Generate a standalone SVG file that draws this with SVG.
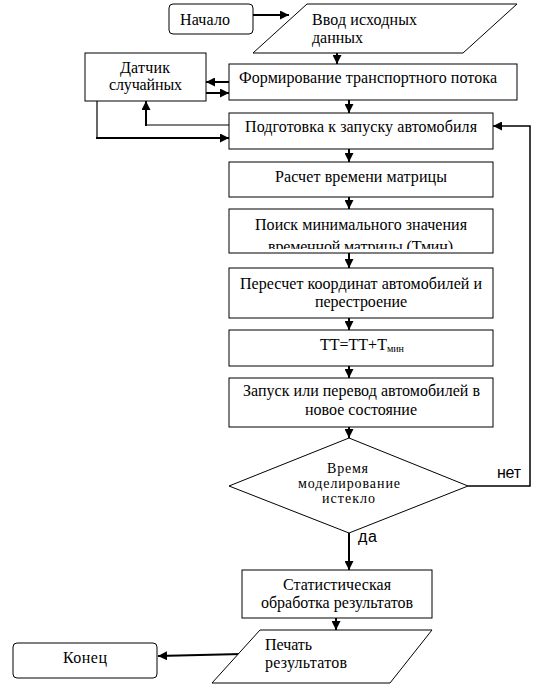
<svg xmlns="http://www.w3.org/2000/svg" width="539" height="696" viewBox="0 0 539 696">
<style>
.box{fill:#fff;stroke:#000;stroke-width:1}
.t{font-family:"Liberation Serif","Times New Roman",serif;font-size:16px;fill:#000}
.ts{font-family:"Liberation Serif","Times New Roman",serif;font-size:14px;fill:#000}
.lbl{font-family:"Liberation Sans",Arial,sans-serif;font-size:16px;fill:#000}
.c{fill:none;stroke:#000;stroke-width:2}
.thin{fill:none;stroke:#000;stroke-width:1.2}
</style>
<defs>
<marker id="ah" markerUnits="userSpaceOnUse" markerWidth="10" markerHeight="9" refX="9" refY="4.5" orient="auto">
<path d="M0,0 L9,4.5 L0,9 z" fill="#000"/>
</marker>
<clipPath id="clipPoisk"><rect x="229" y="209" width="264" height="40"/></clipPath>
</defs>
<rect width="539" height="696" fill="#fff"/>

<g id="connectors">
<line class="c" x1="253" y1="15" x2="289" y2="15" marker-end="url(#ah)"/>
<line class="c" x1="337" y1="47" x2="337" y2="64" marker-end="url(#ah)"/>
<line class="c" x1="229" y1="82" x2="206" y2="82" marker-end="url(#ah)"/>
<line class="c" x1="206" y1="93" x2="229" y2="93" marker-end="url(#ah)"/>
<line class="c" x1="349" y1="100" x2="349" y2="113" marker-end="url(#ah)"/>
<polyline class="thin" points="229,125 146,125"/>
<line class="c" x1="146" y1="126" x2="146" y2="101" stroke-width="3" marker-end="url(#ah)"/>
<polyline class="thin" points="97,101 97,138"/>
<line class="c" x1="96" y1="138" x2="229" y2="138" marker-end="url(#ah)"/>
<line class="c" x1="349" y1="149" x2="349" y2="162" marker-end="url(#ah)"/>
<line class="c" x1="349" y1="197" x2="349" y2="209" marker-end="url(#ah)"/>
<line class="c" x1="349" y1="253" x2="349" y2="268" marker-end="url(#ah)"/>
<line class="c" x1="349" y1="318" x2="349" y2="330" marker-end="url(#ah)"/>
<line class="c" x1="349" y1="366" x2="349" y2="378" marker-end="url(#ah)"/>
<line class="c" x1="349" y1="427" x2="349" y2="438" marker-end="url(#ah)"/>
<polyline fill="none" stroke="#000" stroke-width="1.5" points="468,486 530,486 530,126 493,126" marker-end="url(#ah)"/>
<line class="c" x1="349" y1="533" x2="349" y2="570" stroke-width="3.5" marker-end="url(#ah)"/>
<line class="c" x1="336" y1="618" x2="336" y2="630" marker-end="url(#ah)"/>
<line class="c" x1="242" y1="654" x2="158" y2="656" stroke-width="2.5" marker-end="url(#ah)"/>
<text class="lbl" x="497" y="478" textLength="24" lengthAdjust="spacing">нет</text>
<text class="lbl" x="358" y="542" textLength="19" lengthAdjust="spacing">да</text>
</g>

<g id="start">
<rect class="box" x="169" y="4" width="84" height="30" rx="4"/>
<text class="t" x="180" y="25" textLength="50" lengthAdjust="spacing">Начало</text>
</g>

<g id="input">
<polygon class="box" points="307,4 517,4 463,53 253,53"/>
<text class="t" x="312" y="25" textLength="105" lengthAdjust="spacing">Ввод исходных</text>
<text class="t" x="312" y="43" textLength="51" lengthAdjust="spacing">данных</text>
</g>

<g id="sensor">
<rect class="box" x="85" y="53" width="121" height="48"/>
<text class="t" x="120" y="73" textLength="50" lengthAdjust="spacing">Датчик</text>
<text class="t" x="109" y="90" textLength="73" lengthAdjust="spacing">случайных</text>
</g>

<g id="form">
<rect class="box" x="229" y="64" width="288" height="36"/>
<text class="t" x="239" y="83" textLength="258" lengthAdjust="spacing">Формирование транспортного потока</text>
</g>

<g id="prep">
<rect class="box" x="229" y="113" width="264" height="36"/>
<text class="t" x="245" y="132" textLength="232" lengthAdjust="spacing">Подготовка к запуску автомобиля</text>
</g>

<g id="calc">
<rect class="box" x="229" y="162" width="264" height="35"/>
<text class="t" x="275" y="182" textLength="172" lengthAdjust="spacing">Расчет времени матрицы</text>
</g>

<g id="search">
<rect class="box" x="229" y="209" width="264" height="44"/>
<text class="t" x="255" y="230" textLength="212" lengthAdjust="spacing">Поиск минимального значения</text>
<text class="t" x="268" y="252" textLength="185" lengthAdjust="spacing" clip-path="url(#clipPoisk)">временной матрицы (Тмин)</text>
</g>

<g id="recalc">
<rect class="box" x="229" y="268" width="264" height="50"/>
<text class="t" x="240" y="289" textLength="242" lengthAdjust="spacing">Пересчет координат автомобилей и</text>
<text class="t" x="315" y="307" textLength="92" lengthAdjust="spacing">перестроение</text>
</g>

<g id="tt">
<rect class="box" x="229" y="330" width="264" height="36"/>
<text class="t" x="320" y="350">ТТ=ТТ+Т<tspan font-size="10" dy="2">мин</tspan></text>
</g>

<g id="launch">
<rect class="box" x="229" y="378" width="264" height="49"/>
<text class="t" x="243" y="396" textLength="237" lengthAdjust="spacing">Запуск или перевод автомобилей в</text>
<text class="t" x="305" y="415" textLength="112" lengthAdjust="spacing">новое состояние</text>
</g>

<g id="decision">
<polygon class="box" points="349,438 468,486 349,533 229,486"/>
<text class="ts" x="327" y="473" textLength="41" lengthAdjust="spacing">Время</text>
<text class="ts" x="298" y="488" textLength="102" lengthAdjust="spacing">моделирование</text>
<text class="ts" x="322" y="503" textLength="53" lengthAdjust="spacing">истекло</text>
</g>

<g id="stats">
<rect class="box" x="242" y="570" width="190" height="48"/>
<text class="t" x="283" y="590" textLength="108" lengthAdjust="spacing">Статистическая</text>
<text class="t" x="261" y="608" textLength="152" lengthAdjust="spacing">обработка результатов</text>
</g>

<g id="print">
<polygon class="box" points="260,630 432,630 390,683 212,683"/>
<text class="t" x="265" y="650" textLength="47" lengthAdjust="spacing">Печать</text>
<text class="t" x="265" y="668" textLength="82" lengthAdjust="spacing">результатов</text>
</g>

<g id="end">
<rect class="box" x="13" y="643" width="144" height="35" rx="4"/>
<text class="t" x="63" y="663" textLength="44" lengthAdjust="spacing">Конец</text>
</g>
</svg>
